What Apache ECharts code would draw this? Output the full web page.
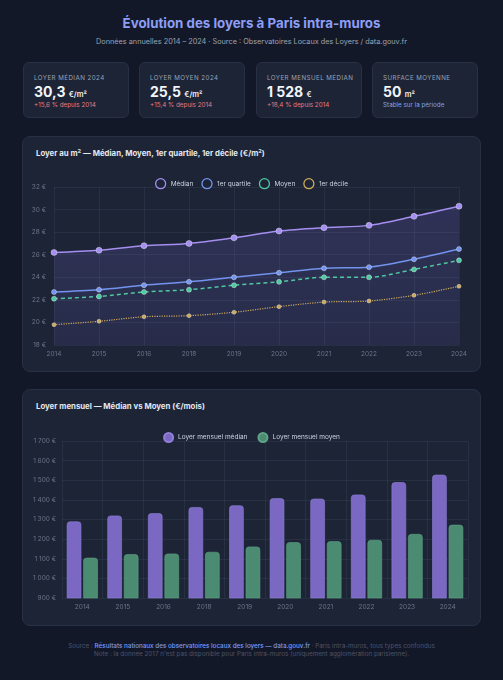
<!DOCTYPE html>
<html lang="fr">
<head>
<meta charset="utf-8">
<script src="https://cdn.jsdelivr.net/npm/echarts@6/dist/echarts.min.js"></script>
<style>
  html, body { margin: 0; padding: 0; }
  body {
    width: 503px; height: 680px; position: relative; overflow: hidden;
    background: #131829; font-family: Inter, "Noto Sans", sans-serif; color: #e2e8f0;
  }
  .abs { position: absolute; }
  h1 {
    position: absolute; left: 0; width: 503px; top: 15px; margin: 0;
    text-align: center; font-size: 13.3px; font-weight: 700; color: #8d9ef6;
  }
  .sub {
    position: absolute; left: 0; width: 503px; top: 37px;
    text-align: center; font-size: 7.3px; color: #9ca3af;
  }
  .kpi {
    position: absolute; top: 62px; width: 106px; height: 56px;
    background: #1d2436; border: 1px solid #283044; border-radius: 6px; box-sizing: border-box;
  }
  .kpi .lab { position: absolute; left: 10px; top: 11px; font-size: 6.2px; letter-spacing: 0.45px; color: #9aa3b5; }
  .kpi .val { position: absolute; left: 10px; top: 20px; font-size: 14px; font-weight: 700; color: #f1f5f9; }
  .kpi .val span { font-size: 7.5px; font-weight: 600; }
  .kpi .chg { position: absolute; left: 10px; top: 38px; font-size: 6.3px; color: #e57b82; }
  .kpi .chg.blue { color: #7ea3f2; }
  .card {
    position: absolute; left: 22px; width: 459px;
    background: #1d2436; border: 1px solid #283044; border-radius: 8px; box-sizing: border-box;
  }
  .card h2 {
    position: absolute; left: 13px; top: 11px; margin: 0;
    font-size: 7.8px; font-weight: 700; color: #e2e8f0;
  }
  .foot {
    position: absolute; left: 0; width: 503px; text-align: center; font-size: 6.3px; color: #4b5468;
  }
  .foot b { font-weight: 500; color: #7e9cf0; }
</style>
</head>
<body>
<h1>Évolution des loyers à Paris intra-muros</h1>
<div class="sub">Données annuelles 2014 – 2024 · Source : Observatoires Locaux des Loyers / data.gouv.fr</div>

<div class="kpi" style="left:23px"><div class="lab">LOYER MÉDIAN 2024</div><div class="val">30,3 <span>€/m²</span></div><div class="chg">+15,6 % depuis 2014</div></div>
<div class="kpi" style="left:139px"><div class="lab">LOYER MOYEN 2024</div><div class="val">25,5 <span>€/m²</span></div><div class="chg">+15,4 % depuis 2014</div></div>
<div class="kpi" style="left:256px"><div class="lab">LOYER MENSUEL MÉDIAN</div><div class="val">1 528 <span>€</span></div><div class="chg">+18,4 % depuis 2014</div></div>
<div class="kpi" style="left:372px"><div class="lab">SURFACE MOYENNE</div><div class="val">50 <span>m²</span></div><div class="chg blue">Stable sur la période</div></div>

<div class="card" style="top:136px;height:236px"><h2>Loyer au m² — Médian, Moyen, 1er quartile, 1er décile (€/m²)</h2></div>
<div class="card" style="top:389px;height:237px"><h2>Loyer mensuel — Médian vs Moyen (€/mois)</h2></div>

<div id="c1" class="abs" style="left:22px;top:165px;width:459px;height:207px"></div>
<div id="c2" class="abs" style="left:22px;top:420px;width:459px;height:206px"></div>

<div class="foot" style="top:642px">Source : <b>Résultats nationaux des observatoires locaux des loyers — data.gouv.fr</b> · Paris intra-muros, tous types confondus</div>
<div class="foot" style="top:650px">Note : la donnée 2017 n'est pas disponible pour Paris intra-muros (uniquement agglomération parisienne).</div>

<script>
// années (2017 absente)
const years = ['2014', '2015', '2016', '2018', '2019', '2020', '2021', '2022', '2023', '2024'];

// loyers au m² (€/m²)
const median = [26.2, 26.4, 26.8, 27.0, 27.5, 28.1, 28.4, 28.6, 29.4, 30.3];
const quartile1 = [22.7, 22.9, 23.3, 23.6, 24.0, 24.4, 24.8, 24.9, 25.6, 26.5];
const moyen = [22.1, 22.3, 22.7, 22.9, 23.3, 23.6, 24.0, 24.0, 24.7, 25.5];
const decile1 = [19.8, 20.1, 20.5, 20.6, 20.9, 21.4, 21.8, 21.9, 22.4, 23.2];

// loyers mensuels (€/mois)
const mensuelMedian = [1290, 1320, 1332, 1363, 1372, 1408, 1406, 1427, 1490, 1528];
const mensuelMoyen = [1105, 1123, 1126, 1135, 1162, 1184, 1189, 1196, 1226, 1273];

const lineNames = ['Médian', '1er quartile', 'Moyen', '1er décile'];
const lineColors = ['#a48ef0', '#7394ee', '#4fc79f', '#cda95a'];

const axisText = { color: '#6b7489', fontSize: 6.5, fontFamily: 'Inter' };
const gridLine = { lineStyle: { color: 'rgba(148,163,184,0.09)', width: 1 } };

function euro(v) {
  return String(v).replace(/\B(?=(\d{3})+(?!\d))/g, ' ') + ' €';
}

function lineSerie(name, data, color, type, size, extra) {
  return Object.assign({
    name: name,
    type: 'line',
    data: data,
    smooth: 0.3,
    symbol: 'circle',
    symbolSize: size,
    lineStyle: { color: color, width: type === 'dotted' ? 1.2 : 1.5, type: type },
    itemStyle: { color: color, borderColor: 'rgba(255,255,255,0.35)', borderWidth: 1 }
  }, extra || {});
}

const chart1 = echarts.init(document.getElementById('c1'));
chart1.setOption({
  animation: false,
  color: lineColors,
  legend: {
    top: 8,
    itemWidth: 10,
    itemHeight: 10,
    itemGap: 8,
    icon: 'circle',
    textStyle: { color: '#cbd5e1', fontSize: 6.5, fontFamily: 'Inter' },
    data: lineNames.map((n, i) => ({
      name: n,
      itemStyle: { color: 'rgba(0,0,0,0)', borderColor: lineColors[i], borderWidth: 1.3 }
    }))
  },
  grid: { left: 32, right: 22, top: 22, bottom: 27 },
  xAxis: {
    type: 'category',
    data: years,
    boundaryGap: false,
    axisLine: { show: false },
    axisTick: { show: false },
    axisLabel: Object.assign({ margin: 6 }, axisText),
    splitLine: Object.assign({ show: true }, gridLine)
  },
  yAxis: {
    type: 'value',
    min: 18,
    max: 32,
    interval: 2,
    axisLabel: Object.assign({ margin: 8, formatter: v => v + ' €' }, axisText),
    splitLine: gridLine
  },
  series: [
    lineSerie('Médian', median, lineColors[0], 'solid', 6, {
      areaStyle: {
        color: new echarts.graphic.LinearGradient(0, 0, 0, 1, [
          { offset: 0, color: 'rgba(130,115,235,0.26)' },
          { offset: 1, color: 'rgba(130,115,235,0.16)' }
        ])
      }
    }),
    lineSerie('1er quartile', quartile1, lineColors[1], 'solid', 5),
    lineSerie('Moyen', moyen, lineColors[2], [4, 3], 5),
    lineSerie('1er décile', decile1, lineColors[3], 'dotted', 4)
  ]
});

const chart2 = echarts.init(document.getElementById('c2'));
chart2.setOption({
  animation: false,
  legend: {
    top: 7,
    itemWidth: 9,
    itemHeight: 9,
    itemGap: 10,
    icon: 'circle',
    textStyle: { color: '#cbd5e1', fontSize: 6.5, fontFamily: 'Inter' }
  },
  grid: { left: 40, right: 13, top: 21, bottom: 28 },
  xAxis: {
    type: 'category',
    data: years,
    axisLine: { show: false },
    axisTick: { show: false },
    axisLabel: Object.assign({ margin: 6 }, axisText),
    splitLine: Object.assign({ show: true }, gridLine)
  },
  yAxis: {
    type: 'value',
    min: 900,
    max: 1700,
    interval: 100,
    axisLabel: Object.assign({ margin: 6, formatter: euro }, axisText),
    splitLine: gridLine
  },
  series: [
    {
      name: 'Loyer mensuel médian',
      type: 'bar',
      data: mensuelMedian,
      barWidth: 14.5,
      barGap: '14%',
      itemStyle: { color: '#7a68c2', borderColor: '#8f7fd6', borderWidth: 0.6, borderRadius: [3, 3, 0, 0] }
    },
    {
      name: 'Loyer mensuel moyen',
      type: 'bar',
      data: mensuelMoyen,
      barWidth: 14.5,
      itemStyle: { color: '#4a8b72', borderColor: '#5fa386', borderWidth: 0.6, borderRadius: [3, 3, 0, 0] }
    }
  ]
});
</script>
</body>
</html>
